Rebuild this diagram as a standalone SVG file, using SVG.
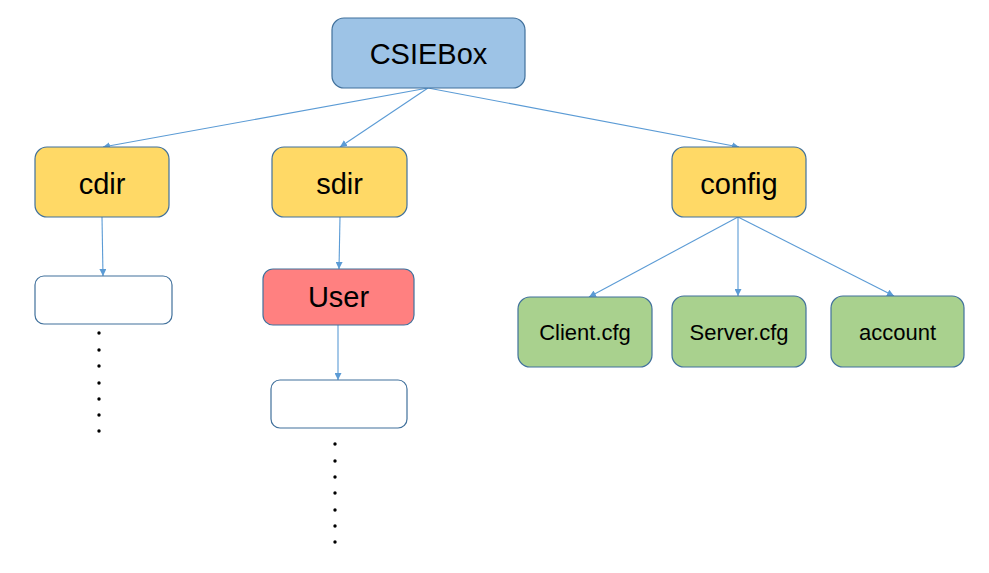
<svg xmlns="http://www.w3.org/2000/svg" width="989" height="573" viewBox="0 0 989 573">
<style>
.box{stroke:#41719C;stroke-width:1.2}
.blue{fill:#9DC3E6}.yellow{fill:#FFD966}.red{fill:#FF8080}.green{fill:#A9D18E}.white{fill:#FFFFFF}
.lbl{font-family:"Liberation Sans","Open Sans",sans-serif;fill:#000;text-anchor:middle;dominant-baseline:central}
.big{font-size:29px}.small{font-size:22px}
.conn line{stroke:#5B9BD5;stroke-width:1.1;marker-end:url(#arr)}
.dot{fill:#000}
</style>
<defs>
<marker id="arr" viewBox="0 0 10 10" refX="10" refY="5" markerWidth="7" markerHeight="7" markerUnits="userSpaceOnUse" orient="auto">
<path d="M0,0 L10,5 L0,10 z" fill="#5B9BD5"/>
</marker>
</defs>
<rect width="989" height="573" fill="#FFFFFF"/>
<g id="connectors" class="conn">
<line x1="428" y1="88" x2="103" y2="147"/>
<line x1="428" y1="88" x2="340" y2="147"/>
<line x1="428" y1="88" x2="739" y2="147"/>
<line x1="102" y1="217" x2="103" y2="276"/>
<line x1="340" y1="217" x2="339" y2="269"/>
<line x1="338" y1="325" x2="338" y2="380"/>
<line x1="738" y1="217" x2="589" y2="297"/>
<line x1="738" y1="217" x2="738" y2="296"/>
<line x1="738" y1="217" x2="894" y2="296"/>
</g>
<g id="csiebox"><rect class="box blue" x="332" y="18" width="193" height="70" rx="12"/><text class="lbl big" x="428.5" y="54">CSIEBox</text></g>
<g id="cdir"><rect class="box yellow" x="35" y="147" width="134" height="70" rx="12"/><text class="lbl big" x="102" y="184">cdir</text></g>
<g id="cdir-child"><rect class="box white" x="35" y="276" width="137" height="48" rx="9"/></g>
<g id="cdir-dots" class="dot">
<circle cx="99" cy="333" r="1.7"/><circle cx="99" cy="350" r="1.7"/><circle cx="99" cy="366" r="1.7"/><circle cx="99" cy="383" r="1.7"/><circle cx="99" cy="399" r="1.7"/><circle cx="99" cy="415" r="1.7"/><circle cx="99" cy="431" r="1.7"/>
</g>
<g id="sdir"><rect class="box yellow" x="272" y="147" width="135" height="70" rx="12"/><text class="lbl big" x="339.5" y="184">sdir</text></g>
<g id="user"><rect class="box red" x="263" y="269" width="151" height="56" rx="10"/><text class="lbl big" x="338.5" y="297">User</text></g>
<g id="user-child"><rect class="box white" x="271" y="380" width="136" height="48" rx="9"/></g>
<g id="user-dots" class="dot">
<circle cx="335" cy="444" r="1.7"/><circle cx="335" cy="461" r="1.7"/><circle cx="335" cy="477" r="1.7"/><circle cx="335" cy="493" r="1.7"/><circle cx="335" cy="510" r="1.7"/><circle cx="335" cy="526" r="1.7"/><circle cx="335" cy="542" r="1.7"/>
</g>
<g id="config"><rect class="box yellow" x="672" y="147" width="134" height="70" rx="12"/><text class="lbl big" x="739" y="184">config</text></g>
<g id="client-cfg"><rect class="box green" x="518" y="297" width="134" height="70" rx="12"/><text class="lbl small" x="585" y="332">Client.cfg</text></g>
<g id="server-cfg"><rect class="box green" x="672" y="296" width="134" height="71" rx="12"/><text class="lbl small" x="739" y="332">Server.cfg</text></g>
<g id="account"><rect class="box green" x="831" y="296" width="133" height="71" rx="12"/><text class="lbl small" x="897.5" y="332">account</text></g>
</svg>
